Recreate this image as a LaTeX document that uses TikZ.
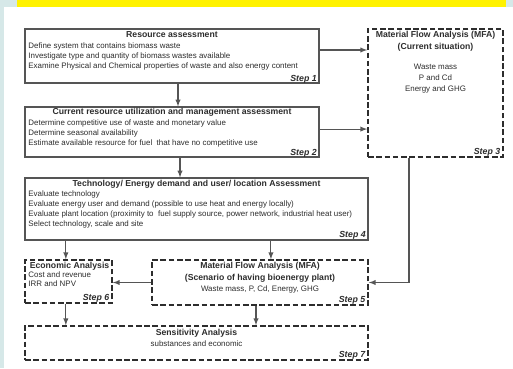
\documentclass[tikz,border=0pt]{standalone}
\usepackage{fontspec}
\setmainfont{Liberation Sans}
\usetikzlibrary{arrows}
\usetikzlibrary{positioning}
\usetikzlibrary{fit}

\definecolor{bgblue}{RGB}{214,232,232}
\definecolor{bandyellow}{RGB}{255,242,0}
\definecolor{inkgray}{RGB}{45,45,45}
\definecolor{linegray}{RGB}{85,85,85}

\tikzset{
  solidbox/.style={draw=linegray, line width=0.8pt, inner sep=0pt},
  dashbox/.style={draw=inkgray, line width=1.2pt, dash pattern=on 4.2pt off 2pt, inner sep=0pt},
  boxtitle/.style={font=\fontsize{6.5}{9}\selectfont\bfseries, text=inkgray, inner sep=0.5pt, align=center},
  boxbody/.style={font=\fontsize{5.95}{7.7}\selectfont, text=inkgray, inner sep=0.5pt, align=left},
  steplabel/.style={font=\fontsize{6.6}{7}\selectfont\bfseries\itshape, text=inkgray, inner sep=0pt},
  flow/.style={-latex, draw=linegray, line width=0.8pt}
}

\begin{document}
\begin{tikzpicture}[x=0.75pt,y=0.75pt,yscale=-1,xscale=1]
\useasboundingbox (0,0) rectangle (513,368);

%Background: frame, left strip and yellow band
\fill[bgblue] (0,0) rectangle (513,368);
\fill[white] (4,7) rectangle (513,368);
\fill[bandyellow] (17,0) rectangle (506,6.5);

%Boxes
\node[solidbox, fit={(25,29) (319,83)}] (res) {};
\node[solidbox, fit={(25,107) (319,157)}] (cur) {};
\node[dashbox, fit={(368,29) (503,157)}] (mfa) {};
\node[solidbox, fit={(25,178) (368,240)}] (tech) {};
\node[dashbox, fit={(25,260) (112,303)}] (econ) {};
\node[dashbox, fit={(152,260) (368,305)}] (scen) {};
\node[dashbox, fit={(25,326) (368,360)}] (sens) {};

%Connectors
\coordinate (a1) at ([xshift=4.5pt]res.south);
\draw[flow] (a1) -- (a1 |- cur.north);
\coordinate (a2) at ([yshift=-4.5pt]res.east);
\draw[flow] (a2) -- (a2 -| mfa.west);
\coordinate (a3) at ([yshift=-2.2pt]cur.east);
\draw[flow] (a3) -- (a3 -| mfa.west);
\coordinate (a4) at ([xshift=6pt]cur.south);
\draw[flow] (a4) -- (a4 |- tech.north);
\coordinate (a5) at ([xshift=-2pt]econ.north);
\draw[flow] (a5 |- tech.south) -- (a5);
\coordinate (a6) at ([xshift=8.2pt]scen.north);
\draw[flow] (a6 |- tech.south) -- (a6);
\coordinate (a7) at ([xshift=-19.9pt]mfa.south);
\draw[flow] (a7) |- (scen.east);
\draw[flow] (scen.west) -- (scen.west -| econ.east);
\coordinate (a8) at ([xshift=-2pt]econ.south);
\draw[flow] (a8) -- (a8 |- sens.north);
\coordinate (a9) at ([xshift=-3pt]scen.south);
\draw[flow] (a9) -- (a9 |- sens.north);

% Text Node
\node[boxtitle] (rest) at (172,35) {Resource assessment};
\node[boxbody, anchor=north west] (resb) at (27.5,41.5) {Define system that contains biomass waste\\Investigate type and quantity of biomass wastes available\\Examine Physical and Chemical properties of waste and also energy content};
\node[steplabel, anchor=base east] (ress) at (317,81) {Step 1};
% Text Node
\node[boxtitle] (curt) at (172,112.5) {Current resource utilization and management assessment};
\node[boxbody, anchor=north west] (curb) at (27.5,118.5) {Determine competitive use of waste and monetary value\\Determine seasonal availability\\Estimate available resource for fuel\ \ that have no competitive use};
\node[steplabel, anchor=base east] (curs) at (317,155) {Step 2};
% Text Node
\node[boxtitle, anchor=north] (mfat) at (435.5,30.5) {Material Flow Analysis (MFA)\\(Current situation)};
\node[boxbody, anchor=north, align=center, font=\fontsize{5.95}{8.2}\selectfont] (mfab) at (435.5,63.5) {Waste mass\\P and Cd\\Energy and GHG};
\node[steplabel, anchor=base east] (mfas) at (500.5,154) {Step 3};
% Text Node
\node[boxtitle] (techt) at (196.5,184) {Technology/ Energy demand and user/ location Assessment};
\node[boxbody, anchor=north west] (techb) at (27.5,189.5) {Evaluate technology\\Evaluate energy user and demand (possible to use heat and energy locally)\\Evaluate plant location (proximity to\ \ fuel supply source, power network, industrial heat user)\\Select technology, scale and site};
\node[steplabel, anchor=base east] (techs) at (366,237.5) {Step 4};
% Text Node
\node[boxtitle] (econt) at (69.5,266) {Economic Analysis};
\node[boxbody, anchor=north west, font=\fontsize{5.95}{6.9}\selectfont] (econb) at (27.5,271) {Cost and revenue\\IRR and NPV};
\node[steplabel, anchor=base east] (econs) at (109.5,300.5) {Step 6};
% Text Node
\node[boxtitle, anchor=north] (scent) at (260,261.5) {Material Flow Analysis (MFA)\\(Scenario of having bioenergy plant)};
\node[boxbody, anchor=north] (scenb) at (260,285) {Waste mass, P, Cd, Energy, GHG};
\node[steplabel, anchor=base east] (scens) at (365.5,302.5) {Step 5};
% Text Node
\node[boxtitle] (senst) at (196.5,333) {Sensitivity Analysis};
\node[boxbody, anchor=north] (sensb) at (196.5,340) {substances and economic};
\node[steplabel, anchor=base east] (senss) at (365.5,357.5) {Step 7};

\end{tikzpicture}
\end{document}
